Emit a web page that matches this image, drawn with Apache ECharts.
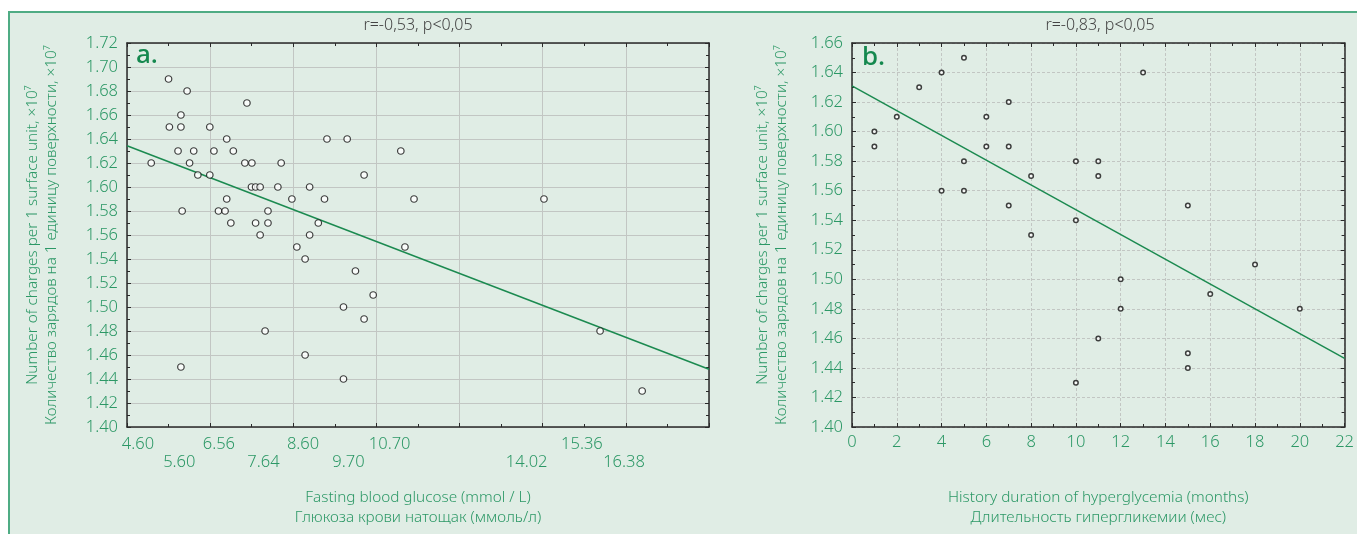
<!DOCTYPE html>
<html>
<head>
<meta charset="utf-8">
<script src="https://cdn.jsdelivr.net/npm/echarts@6/dist/echarts.min.js"></script>
<style>
html,body{margin:0;padding:0;background:#fff;}
#chart{width:1357px;height:534px;}
</style>
</head>
<body>
<div id="chart"></div>
<script>
// ---------- Data ----------
// Panel a: fasting blood glucose (mmol/L) vs number of charges (x10^7)
const glucoseX = [4.92,5.34,5.36,5.64,5.64,5.57,5.85,5.95,6.05,5.67,5.79,6.34,6.34,6.44,6.75,6.75,6.91,6.55,6.71,6.85,7.24,7.19,7.36,7.35,7.45,7.56,7.45,7.56,7.75,7.75,7.99,8.07,8.33,8.45,8.65,8.76,8.76,8.97,9.12,9.18,9.67,9.87,10.97,10.08,11.29,14.44,11.07,9.58,7.68,8.65,5.64,9.58,10.30,10.08,15.80,16.82];
const chargesA = [1.62,1.69,1.65,1.66,1.65,1.63,1.62,1.63,1.61,1.58,1.68,1.65,1.61,1.63,1.64,1.59,1.63,1.58,1.58,1.57,1.67,1.62,1.62,1.60,1.60,1.60,1.57,1.56,1.58,1.57,1.60,1.62,1.59,1.55,1.54,1.60,1.56,1.57,1.59,1.64,1.64,1.53,1.63,1.61,1.59,1.59,1.55,1.50,1.48,1.46,1.45,1.44,1.51,1.49,1.48,1.43];
const glucoseTickLabels = [4.60,5.60,6.56,7.64,8.60,9.70,10.70,14.02,15.36,16.38];
const glucoseLowerRow = [5.60,7.64,9.70,14.02,16.38];
const glucoseRange = [4.333,18.44];
const fitA = [[4.333,1.6344],[18.44,1.4481]];

// Panel b: history duration of hyperglycemia (months) vs number of charges
const monthsX = [1,1,2,3,4,4,5,5,5,6,6,7,7,7,8,8,10,10,10,11,11,11,12,12,13,15,15,15,16,18,20];
const chargesB = [1.60,1.59,1.61,1.63,1.64,1.56,1.65,1.58,1.56,1.61,1.59,1.62,1.59,1.55,1.57,1.53,1.58,1.54,1.43,1.58,1.57,1.46,1.50,1.48,1.64,1.55,1.45,1.44,1.49,1.51,1.48];
const fitB = [[0,1.631],[22,1.4465]];

const titleA = 'r=-0,53, p<0,05';
const titleB = 'r=-0,83, p<0,05';
const yName = 'Number of charges per 1 surface unit, ×10⁷\nКоличество зарядов на 1 единицу поверхности, ×10⁷';
const xNameA = 'Fasting blood glucose (mmol / L)\nГлюкоза крови натощак (ммоль/л)';
const xNameB = 'History duration of hyperglycemia (months)\nДлительность гипергликемии (мес)';

// ---------- Styles ----------
const FONT = 'Noto Sans';
const FW = 350;
const GREEN_TXT = '#2c9866';
const BG = '#e0ede5';
const FRAME = '#4fac84';
const AXIS = '#2a2a2a';
const GRIDC = '#c2c6c3';
const TICK_FS = 16.5;
const NAME_FS = 15.3;

const chart = echarts.init(document.getElementById('chart'), null, {renderer: 'canvas'});

function frameAxis(common) {
  return Object.assign({
    axisLine: {show: true, onZero: false, lineStyle: {color: AXIS, width: 1.5}},
    axisTick: {show: true, inside: true, length: 4, lineStyle: {color: AXIS, width: 1}},
    minorTick: {show: true, splitNumber: 2, length: 3, lineStyle: {color: AXIS, width: 1}},
    axisLabel: {show: false},
    splitLine: {show: false}
  }, common);
}

const yLabel = {show: true, color: GREEN_TXT, fontFamily: FONT, fontWeight: FW, fontSize: TICK_FS, margin: 9,
  formatter: v => v.toFixed(2)};
const nameStyle = {color: GREEN_TXT, fontFamily: FONT, fontWeight: FW, fontSize: NAME_FS, lineHeight: 19};

const option = {
  backgroundColor: '#ffffff',
  animation: false,
  grid: [
    {left: 127, top: 43, width: 582, height: 384},
    {left: 852, top: 43, width: 497, height: 384}
  ],
  xAxis: [
    // 0: panel a data axis with custom labels
    {type: 'value', gridIndex: 0, position: 'bottom', min: glucoseRange[0], max: glucoseRange[1],
      axisLine: {show: true, onZero: false, lineStyle: {color: AXIS, width: 1.5}},
      axisTick: {show: false}, splitLine: {show: false},
      axisLabel: {show: true, customValues: glucoseTickLabels, color: GREEN_TXT, fontFamily: FONT, fontWeight: FW,
        fontSize: TICK_FS, margin: 9, lineHeight: 17.5,
        formatter: v => (glucoseLowerRow.some(t => Math.abs(t - v) < 1e-6) ? '\n' : '') + v.toFixed(2)},
      name: xNameA, nameLocation: 'middle', nameGap: 61, nameTextStyle: Object.assign({}, nameStyle, {lineHeight: 20})},
    // 1: panel a grid/tick helper (bottom)
    frameAxis({type: 'value', gridIndex: 0, position: 'bottom', min: 0, max: 7, interval: 1,
      axisLine: {show: false},
      splitLine: {show: true, lineStyle: {color: GRIDC, width: 1}}}),
    // 2: panel a top frame
    frameAxis({type: 'value', gridIndex: 0, position: 'top', min: 0, max: 7, interval: 1}),
    // 3: panel b bottom
    frameAxis({type: 'value', gridIndex: 1, position: 'bottom', min: 0, max: 22, interval: 2,
      axisLabel: {show: true, color: GREEN_TXT, fontFamily: FONT, fontWeight: FW, fontSize: TICK_FS, margin: 7},
      splitLine: {show: true, lineStyle: {color: GRIDC, width: 1, type: [3, 2]}},
      name: xNameB, nameLocation: 'middle', nameGap: 61, nameTextStyle: Object.assign({}, nameStyle, {lineHeight: 20})}),
    // 4: panel b top frame
    frameAxis({type: 'value', gridIndex: 1, position: 'top', min: 0, max: 22, interval: 2})
  ],
  yAxis: [
    frameAxis({type: 'value', gridIndex: 0, position: 'left', min: 1.40, max: 1.72, interval: 0.02,
      axisLabel: yLabel,
      splitLine: {show: true, lineStyle: {color: GRIDC, width: 1}},
      name: yName, nameLocation: 'middle', nameRotate: 90, nameGap: 66, nameTextStyle: nameStyle}),
    frameAxis({type: 'value', gridIndex: 0, position: 'right', min: 1.40, max: 1.72, interval: 0.02}),
    frameAxis({type: 'value', gridIndex: 1, position: 'left', min: 1.40, max: 1.66, interval: 0.02,
      axisLabel: yLabel,
      splitLine: {show: true, lineStyle: {color: GRIDC, width: 1, type: [3, 2]}},
      name: yName, nameLocation: 'middle', nameRotate: 90, nameGap: 61, nameTextStyle: nameStyle}),
    frameAxis({type: 'value', gridIndex: 1, position: 'right', min: 1.40, max: 1.66, interval: 0.02})
  ],
  series: [
    {type: 'line', xAxisIndex: 0, yAxisIndex: 0, data: fitA, showSymbol: false, silent: true, z: 2,
      lineStyle: {color: '#1b8a50', width: 1.5}},
    {type: 'scatter', xAxisIndex: 0, yAxisIndex: 0, z: 3,
      data: glucoseX.map((x, i) => [x, chargesA[i]]),
      symbol: 'circle', symbolSize: 6.5,
      itemStyle: {color: '#ffffff', borderColor: '#111111', borderWidth: 1.2}},
    {type: 'line', xAxisIndex: 3, yAxisIndex: 2, data: fitB, showSymbol: false, silent: true, z: 2,
      lineStyle: {color: '#1b8a50', width: 1.5}},
    {type: 'scatter', xAxisIndex: 3, yAxisIndex: 2, z: 3,
      data: monthsX.map((x, i) => [x, chargesB[i]]),
      symbol: 'circle', symbolSize: 4.5,
      itemStyle: {color: '#ffffff', borderColor: '#111111', borderWidth: 1.5}}
  ],
  graphic: [
    {type: 'rect', z: -10, silent: true, shape: {x: 8, y: 11, width: 1349, height: 523}, style: {fill: BG}},
    {type: 'line', z: -9, silent: true, shape: {x1: 8, y1: 12, x2: 1357, y2: 12}, style: {stroke: FRAME, lineWidth: 2}},
    {type: 'line', z: -9, silent: true, shape: {x1: 9, y1: 11, x2: 9, y2: 534}, style: {stroke: FRAME, lineWidth: 2}},
    {type: 'text', z: 10, style: {text: titleA, x: 418, y: 25, textAlign: 'center', textVerticalAlign: 'middle',
      font: '350 16px "Noto Sans"', fill: '#444444'}},
    {type: 'text', z: 10, style: {text: titleB, x: 1100, y: 25, textAlign: 'center', textVerticalAlign: 'middle',
      font: '350 16px "Noto Sans"', fill: '#444444'}},
    {type: 'text', z: 10, style: {text: 'a.', x: 136, y: 56, textAlign: 'left', textVerticalAlign: 'middle',
      font: '500 26px "Noto Sans"', fill: '#14884e'}},
    {type: 'text', z: 10, style: {text: 'b.', x: 862, y: 58, textAlign: 'left', textVerticalAlign: 'middle',
      font: '500 26px "Noto Sans"', fill: '#14884e'}}
  ]
};
chart.setOption(option);
</script>
</body>
</html>
